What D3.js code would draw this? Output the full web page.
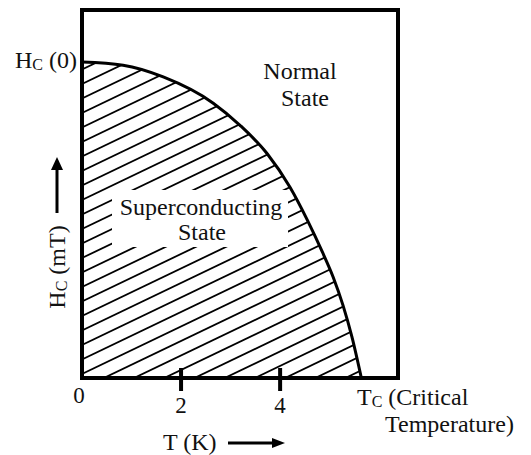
<!DOCTYPE html>
<html>
<head>
<meta charset="utf-8">
<script src="https://cdn.jsdelivr.net/npm/d3@7"></script>
<style>
  body { margin: 0; background: #fff; }
  text { font-family: "Liberation Serif", "Times New Roman", serif; fill: #111; }
</style>
</head>
<body>
<div id="chart"></div>
<script>
// critical field curve (T in K, H as fraction of Hc(0))
var tempK = [0, 0.83, 1.64, 2.65, 3.19, 3.74, 4.20, 4.55, 4.85, 5.07, 5.27, 5.45, 5.64];
var hcField = [1.0, 0.99, 0.953, 0.870, 0.80, 0.71, 0.604, 0.50, 0.40, 0.32, 0.23, 0.13, 0];
var tickValues = [2, 4];
var tickLabels = ["0", "2", "4"];
var tickLabelValues = [0, 2, 4];

var width = 531, height = 455;

var svg = d3.select("#chart")
    .append("svg")
    .attr("width", width)
    .attr("height", height);

var x = d3.scaleLinear().domain([0, 6.38]).range([82, 398]);
var y = d3.scaleLinear().domain([0, 1.165]).range([378, 10]);

var curveData = tempK.map(function(t, i) { return { t: t, h: hcField[i] }; });

var area = d3.area()
    .x(d => x(d.t))
    .y0(y(0))
    .y1(d => y(d.h))
    .curve(d3.curveMonotoneX);

var line = d3.line()
    .x(d => x(d.t))
    .y(d => y(d.h))
    .curve(d3.curveMonotoneX);

svg.append("defs")
    .append("clipPath")
    .attr("id", "sc-clip")
    .append("path")
    .attr("d", area(curveData));

// hatching of the superconducting region
var slope = 0.48, gap = 14.5;
var hatch = svg.append("g").attr("clip-path", "url(#sc-clip)");
for (var k = -12; k < 26; k++) {
    var y0 = 374 - k * gap;
    hatch.append("line")
        .attr("x1", 82).attr("y1", y0)
        .attr("x2", 400).attr("y2", y0 - slope * 318)
        .attr("stroke", "#000")
        .attr("stroke-width", 1.8);
}

// white patch behind the label
svg.append("rect")
    .attr("x", 112).attr("y", 190)
    .attr("width", 176).attr("height", 57)
    .attr("fill", "#fff");

// critical field curve
svg.append("path")
    .attr("d", line(curveData))
    .attr("fill", "none")
    .attr("stroke", "#000")
    .attr("stroke-width", 3);

// frame
svg.append("rect")
    .attr("x", x(0)).attr("y", y(1.165))
    .attr("width", x(6.38) - x(0))
    .attr("height", y(0) - y(1.165))
    .attr("fill", "none")
    .attr("stroke", "#000")
    .attr("stroke-width", 4);

// ticks across the bottom edge
svg.selectAll(".tick")
    .data(tickValues)
    .enter().append("line")
    .attr("class", "tick")
    .attr("x1", d => x(d)).attr("x2", d => x(d))
    .attr("y1", y(0) - 10).attr("y2", y(0) + 13)
    .attr("stroke", "#000")
    .attr("stroke-width", 4);

svg.selectAll(".tick-label")
    .data(tickLabelValues)
    .enter().append("text")
    .attr("class", "tick-label")
    .attr("x", d => x(d) - (d === 0 ? 3 : 0))
    .attr("y", d => d === 0 ? 403 : 413)
    .attr("text-anchor", "middle")
    .attr("font-size", 23)
    .text((d, i) => tickLabels[i]);

// Hc(0)
var hc0 = svg.append("text")
    .attr("x", 15).attr("y", 68)
    .attr("font-size", 24);
hc0.append("tspan").text("H");
hc0.append("tspan").attr("font-size", 16).attr("dy", 2).text("C");
hc0.append("tspan").attr("dy", -2).text(" (0)");

// Normal state
svg.append("text").attr("x", 300).attr("y", 79)
    .attr("text-anchor", "middle").attr("font-size", 24).text("Normal");
svg.append("text").attr("x", 305).attr("y", 106)
    .attr("text-anchor", "middle").attr("font-size", 24).text("State");

// Superconducting state
svg.append("text").attr("x", 201).attr("y", 215)
    .attr("text-anchor", "middle").attr("font-size", 24).text("Superconducting");
svg.append("text").attr("x", 202).attr("y", 240)
    .attr("text-anchor", "middle").attr("font-size", 24).text("State");

// Tc label
var tc = svg.append("text")
    .attr("x", 357).attr("y", 405)
    .attr("font-size", 24);
tc.append("tspan").text("T");
tc.append("tspan").attr("font-size", 16).attr("dy", 2).text("C");
tc.append("tspan").attr("dy", -2).text(" (Critical");
svg.append("text").attr("x", 385).attr("y", 432)
    .attr("font-size", 24).text("Temperature)");

// x axis title and arrow
svg.append("text").attr("x", 163).attr("y", 450)
    .attr("font-size", 24).text("T (K)");
svg.append("line")
    .attr("x1", 228).attr("y1", 443).attr("x2", 274).attr("y2", 443)
    .attr("stroke", "#000").attr("stroke-width", 3);
svg.append("path")
    .attr("d", "M272,438 L285,443 L272,448 Z")
    .attr("fill", "#000");

// y axis title and arrow
var yl = svg.append("text")
    .attr("transform", "translate(65,267) rotate(-90)")
    .attr("text-anchor", "middle")
    .attr("font-size", 24);
yl.append("tspan").text("H");
yl.append("tspan").attr("font-size", 16).attr("dy", 2).text("C");
yl.append("tspan").attr("dy", -2).text(" (mT)");

svg.append("line")
    .attr("x1", 57).attr("y1", 213).attr("x2", 57).attr("y2", 168)
    .attr("stroke", "#000").attr("stroke-width", 3);
svg.append("path")
    .attr("d", "M51,170 L57,157 L63,170 Z")
    .attr("fill", "#000");
</script>
</body>
</html>
